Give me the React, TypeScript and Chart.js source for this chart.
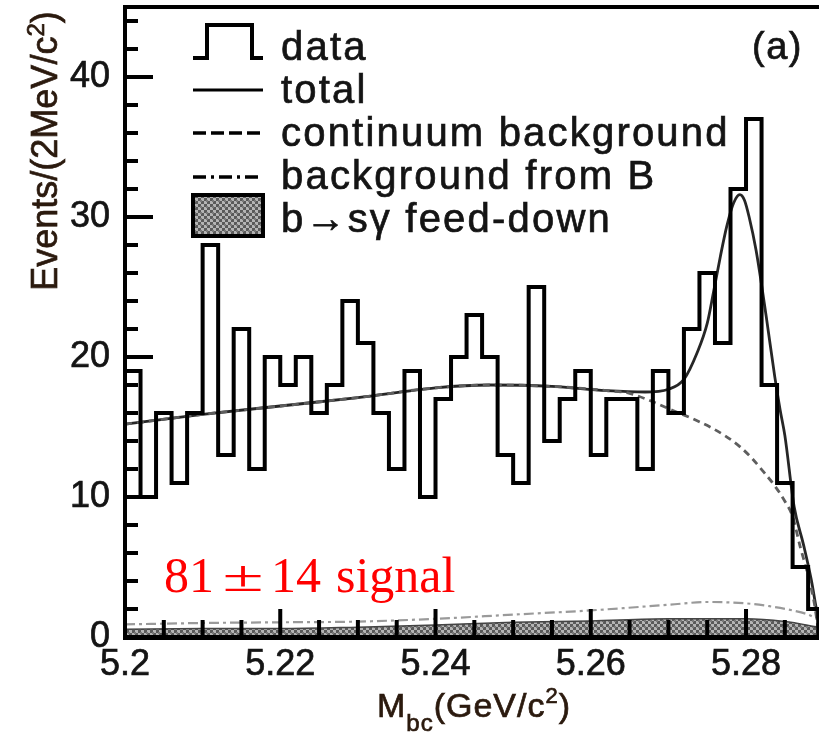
import React, { useEffect, useRef } from "react";
import { Chart, registerables } from "chart.js";

Chart.register(...registerables);

// ---------- data ----------
// lower edges of the 2 MeV bins
const binLowEdges = [
  5.200, 5.202, 5.204, 5.206, 5.208, 5.210, 5.212, 5.214, 5.216, 5.218,
  5.220, 5.222, 5.224, 5.226, 5.228, 5.230, 5.232, 5.234, 5.236, 5.238,
  5.240, 5.242, 5.244, 5.246, 5.248, 5.250, 5.252, 5.254, 5.256, 5.258,
  5.260, 5.262, 5.264, 5.266, 5.268, 5.270, 5.272, 5.274, 5.276, 5.278,
  5.280, 5.282, 5.284, 5.286, 5.288,
];
const histEndEdge = 5.2893;
const eventCounts = [
  19, 10, 16, 11, 16, 28, 13, 22, 12, 20,
  18, 20, 16, 18, 24, 21, 16, 12, 19, 10,
  17, 20, 23, 20, 13, 11, 25, 14, 17, 19,
  13, 17, 17, 12, 19, 16, 22, 26, 21, 32,
  37, 18, 11, 5, 2,
];

const totalX = [5.2, 5.21, 5.22, 5.23, 5.24, 5.247, 5.255, 5.262, 5.267, 5.27, 5.272, 5.2737, 5.275, 5.2758, 5.2767, 5.2775, 5.2784, 5.2792, 5.2798, 5.2804, 5.2813, 5.2826, 5.2837, 5.2844, 5.285, 5.2862, 5.2874, 5.2884, 5.289, 5.2894];
const totalY = [15.2, 15.9, 16.5, 17.1, 17.8, 18.0, 17.9, 17.6, 17.5, 17.7, 18.4, 20.3, 22.4, 24.6, 27.2, 29.3, 31.0, 31.6, 31.2, 30.0, 27.6, 22.9, 18.6, 16.2, 14.4, 9.3, 6.6, 4.1, 2.2, 1.0];

const continuumX = [5.2, 5.21, 5.22, 5.23, 5.24, 5.247, 5.255, 5.262, 5.265, 5.268, 5.2705, 5.2735, 5.2757, 5.2775, 5.2792, 5.2807, 5.2824, 5.2837, 5.285, 5.286, 5.287, 5.288, 5.2888, 5.2893];
const continuumY = [15.2, 15.9, 16.5, 17.1, 17.8, 18.0, 17.9, 17.6, 17.4, 16.8, 16.2, 15.5, 14.9, 14.3, 13.6, 12.8, 11.7, 10.8, 9.7, 8.6, 6.4, 4.4, 2.4, 0.5];

const bBkgX = [5.2, 5.21, 5.22, 5.23, 5.24, 5.25, 5.26, 5.27, 5.275, 5.28, 5.283, 5.286, 5.288, 5.2894];
const bBkgY = [0.9, 1.0, 1.05, 1.1, 1.3, 1.6, 1.9, 2.3, 2.5, 2.4, 2.2, 1.9, 1.6, 1.2];

const feedX = [5.2, 5.21, 5.22, 5.23, 5.24, 5.25, 5.26, 5.27, 5.28, 5.285, 5.2894];
const feedY = [0.55, 0.6, 0.6, 0.7, 0.85, 1.05, 1.15, 1.3, 1.3, 1.1, 0.7];

const xTickValues = [5.2, 5.22, 5.24, 5.26, 5.28];
const xTickLabels = ["5.2", "5.22", "5.24", "5.26", "5.28"];
const xMinorTicks = [5.205, 5.21, 5.215, 5.225, 5.23, 5.235, 5.245, 5.25, 5.255, 5.265, 5.27, 5.275, 5.285];
const yTickValues = [0, 10, 20, 30, 40];
const yTickLabels = ["0", "10", "20", "30", "40"];
const yMinorTicks = [2, 4, 6, 8, 12, 14, 16, 18, 22, 24, 26, 28, 32, 34, 36, 38, 42, 44];

const legendLabels = ["data", "total", "continuum background", "background from B", "b\u2192s\u03b3 feed-down"];
const signalText = ["81", "\u00b1", "14", "signal"];
const panelLabel = "(a)";

const X_MIN = 5.2;
const X_MAX = 5.2894;
const Y_MIN = 0;
const Y_MAX = 45;

const SANS = '"Liberation Sans", Arial, sans-serif';
const SERIF = '"Liberation Serif", "Times New Roman", serif';
const TEXT_DARK = "#141414";
const TITLE_DARK = "#2b1a0e";

function makeHatch(): CanvasPattern | string {
  const c = document.createElement("canvas");
  c.width = 6;
  c.height = 6;
  const g = c.getContext("2d");
  if (!g) return "#888";
  g.fillStyle = "#b4b4b4";
  g.fillRect(0, 0, 6, 6);
  g.fillStyle = "#5a5a5a";
  g.fillRect(0, 0, 3, 3);
  g.fillRect(3, 3, 3, 3);
  g.fillStyle = "#7a7a7a";
  g.fillRect(2, 2, 2, 2);
  const p = g.createPattern(c, "repeat");
  return p || "#888";
}

function pts(xs: number[], ys: number[]) {
  return xs.map((x, i) => ({ x, y: ys[i] }));
}

// fill + thin stroke to match the heavy rendering of the original
function heavyText(ctx: CanvasRenderingContext2D, t: string, x: number, y: number, color: string, w = 0.7) {
  ctx.fillStyle = color;
  ctx.strokeStyle = color;
  ctx.lineWidth = w;
  ctx.setLineDash([]);
  ctx.fillText(t, x, y);
  if (w > 0) ctx.strokeText(t, x, y);
}

export default function App() {
  const ref = useRef<HTMLCanvasElement | null>(null);

  useEffect(() => {
    const canvas = ref.current;
    if (!canvas) return;
    const hatch = makeHatch();

    const histPoints = [
      ...binLowEdges.map((e, i) => ({ x: e, y: eventCounts[i] })),
      { x: histEndEdge, y: 0 },
    ];

    const overlay = {
      id: "overlay",
      afterDraw(chart: any) {
        const ctx: CanvasRenderingContext2D = chart.ctx;
        const a = chart.chartArea;
        const xs = chart.scales.x;
        const ys = chart.scales.y;
        const L = Math.round(a.left);
        const T = Math.round(a.top);
        const B = Math.round(a.bottom);

        ctx.save();
        ctx.setLineDash([]);

        // ---- frame ----
        ctx.fillStyle = "#000000";
        ctx.fillRect(L - 2, T - 2, 830 - L, 4);
        ctx.fillRect(L - 2, T - 2, 4, B - T + 4);
        ctx.fillRect(L - 2, B - 2, 830 - L, 5);

        // ---- inward ticks ----
        for (let i = 0; i < yTickValues.length; i++) {
          const py = ys.getPixelForValue(yTickValues[i]);
          ctx.fillRect(L, py - 2, 28, 4);
        }
        for (let i = 0; i < yMinorTicks.length; i++) {
          const py = ys.getPixelForValue(yMinorTicks[i]);
          ctx.fillRect(L, py - 2, 13, 4);
        }
        for (let i = 0; i < xTickValues.length; i++) {
          const px = xs.getPixelForValue(xTickValues[i]);
          ctx.fillRect(px - 2, B - 28, 4, 28);
        }
        for (let i = 0; i < xMinorTicks.length; i++) {
          const px = xs.getPixelForValue(xMinorTicks[i]);
          ctx.fillRect(px - 2, B - 17, 4, 17);
        }

        // ---- tick labels ----
        ctx.font = `36px ${SANS}`;
        ctx.textBaseline = "middle";
        ctx.textAlign = "right";
        yTickValues.forEach((v, i) => {
          heavyText(ctx, yTickLabels[i], L - 15, ys.getPixelForValue(v), TEXT_DARK);
        });
        ctx.textAlign = "center";
        xTickValues.forEach((v, i) => {
          heavyText(ctx, xTickLabels[i], xs.getPixelForValue(v), B + 28, TEXT_DARK);
        });

        ctx.textBaseline = "alphabetic";
        ctx.textAlign = "left";

        // ---- legend ----
        const lx0 = 193;
        const lx1 = 263;
        ctx.strokeStyle = "#000";
        ctx.lineJoin = "miter";
        ctx.lineCap = "butt";
        ctx.lineWidth = 4;
        ctx.beginPath();
        ctx.moveTo(lx0, 58);
        ctx.lineTo(207, 58);
        ctx.lineTo(207, 25);
        ctx.lineTo(252, 25);
        ctx.lineTo(252, 58);
        ctx.lineTo(lx1, 58);
        ctx.stroke();
        ctx.lineWidth = 3;
        ctx.beginPath();
        ctx.moveTo(lx0, 90);
        ctx.lineTo(lx1, 90);
        ctx.stroke();
        ctx.lineWidth = 3.5;
        ctx.setLineDash([13, 5]);
        ctx.beginPath();
        ctx.moveTo(lx0, 133);
        ctx.lineTo(lx1, 133);
        ctx.stroke();
        ctx.setLineDash([13, 5, 3, 5]);
        ctx.beginPath();
        ctx.moveTo(lx0, 177);
        ctx.lineTo(lx1, 177);
        ctx.stroke();
        ctx.setLineDash([]);
        ctx.fillStyle = hatch as any;
        ctx.fillRect(lx0, 195, lx1 - lx0, 41);
        ctx.lineWidth = 4;
        ctx.strokeRect(lx0, 195, lx1 - lx0, 41);

        ctx.font = `40px ${SANS}`;
        (ctx as any).letterSpacing = "2.2px";
        const baselines = [60, 102.5, 145.5, 188.5, 231.5];
        legendLabels.forEach((t, i) => heavyText(ctx, t, 281, baselines[i], TEXT_DARK));

        ctx.font = `38px ${SANS}`;
        (ctx as any).letterSpacing = "1.5px";
        heavyText(ctx, panelLabel, 752, 59, TEXT_DARK);
        (ctx as any).letterSpacing = "0px";

        // ---- signal yield ----
        ctx.font = `50px ${SERIF}`;
        heavyText(ctx, signalText[0], 164, 592, "#ff0000", 0);
        ctx.save();
        ctx.translate(243, 591);
        ctx.scale(1.5, 0.9);
        ctx.textAlign = "center";
        heavyText(ctx, signalText[1], 0, 0, "#ff0000", 0);
        ctx.restore();
        heavyText(ctx, signalText[2], 271, 592, "#ff0000", 0);
        heavyText(ctx, signalText[3], 336, 592, "#ff0000", 0);

        // ---- y title (rotated) ----
        ctx.save();
        ctx.translate(57, 151);
        ctx.rotate(-Math.PI / 2);
        const yMain = "Events/(2MeV/c";
        ctx.font = `36px ${SANS}`;
        const w1 = ctx.measureText(yMain).width;
        ctx.font = `24px ${SANS}`;
        const w2 = ctx.measureText("2").width;
        ctx.font = `36px ${SANS}`;
        const w3 = ctx.measureText(")").width;
        let sx = -(w1 + w2 + w3) / 2;
        heavyText(ctx, yMain, sx, 0, TITLE_DARK);
        sx += w1;
        ctx.font = `24px ${SANS}`;
        heavyText(ctx, "2", sx, -13, TITLE_DARK);
        sx += w2;
        ctx.font = `36px ${SANS}`;
        heavyText(ctx, ")", sx, 0, TITLE_DARK);
        ctx.restore();

        // ---- x title ----
        (ctx as any).letterSpacing = "1px";
        let xx = 377;
        ctx.font = `34px ${SANS}`;
        heavyText(ctx, "M", xx, 717, TITLE_DARK);
        xx += ctx.measureText("M").width;
        ctx.font = `24px ${SANS}`;
        heavyText(ctx, "bc", xx, 731, TITLE_DARK);
        xx += ctx.measureText("bc").width;
        ctx.font = `34px ${SANS}`;
        heavyText(ctx, "(GeV/c", xx, 717, TITLE_DARK);
        xx += ctx.measureText("(GeV/c").width;
        ctx.font = `22px ${SANS}`;
        heavyText(ctx, "2", xx, 703, TITLE_DARK);
        xx += ctx.measureText("2").width;
        ctx.font = `34px ${SANS}`;
        heavyText(ctx, ")", xx, 717, TITLE_DARK);
        (ctx as any).letterSpacing = "0px";

        ctx.restore();
      },
    };

    const chart = new Chart(canvas, {
      type: "line",
      data: {
        datasets: [
          { label: "data", data: histPoints, stepped: "before", borderColor: "#000", borderWidth: 4, pointRadius: 0, fill: false },
          { label: "continuum background", data: pts(continuumX, continuumY), borderColor: "#5e5e5e", borderWidth: 2.8, borderDash: [7, 5], cubicInterpolationMode: "monotone", pointRadius: 0, fill: false },
          { label: "total", data: pts(totalX, totalY), borderColor: "#262626", borderWidth: 2.8, cubicInterpolationMode: "monotone", pointRadius: 0, fill: false },
          { label: "background from B", data: pts(bBkgX, bBkgY), borderColor: "#9a9a9a", borderWidth: 2.2, borderDash: [10, 4, 3, 4], cubicInterpolationMode: "monotone", pointRadius: 0, fill: false },
          { label: "b\u2192s\u03b3 feed-down", data: pts(feedX, feedY), borderColor: "#444", borderWidth: 1.5, backgroundColor: hatch as any, cubicInterpolationMode: "monotone", pointRadius: 0, fill: "origin" },
        ] as any,
      },
      options: {
        animation: false,
        responsive: false,
        maintainAspectRatio: false,
        layout: { padding: { left: 0, right: 0, top: 7, bottom: 0 }, autoPadding: false } as any,
        plugins: { legend: { display: false }, tooltip: { enabled: false }, title: { display: false } },
        scales: {
          x: {
            type: "linear", min: X_MIN, max: X_MAX,
            afterBuildTicks: (s: any) => { s.ticks = xTickValues.map((v) => ({ value: v })); },
            afterFit: (s: any) => { s.height = 96; s.paddingLeft = 0; s.paddingRight = 0; },
            ticks: { display: false },
            grid: { display: false, drawTicks: false, tickLength: 0 },
            border: { display: false },
          },
          y: {
            type: "linear", min: Y_MIN, max: Y_MAX,
            afterBuildTicks: (s: any) => { s.ticks = yTickValues.map((v) => ({ value: v })); },
            afterFit: (s: any) => { s.width = 125; s.paddingTop = 0; s.paddingBottom = 0; },
            ticks: { display: false },
            grid: { display: false, drawTicks: false, tickLength: 0 },
            border: { display: false },
          },
        },
      } as any,
      plugins: [overlay],
    });

    return () => chart.destroy();
  }, []);

  return (
    <div style={{ position: "fixed", left: 0, top: 0, width: 819, height: 733, background: "#ffffff", overflow: "hidden" }}>
      <canvas ref={ref} width={819} height={733} style={{ display: "block", width: 819, height: 733 }} />
    </div>
  );
}
